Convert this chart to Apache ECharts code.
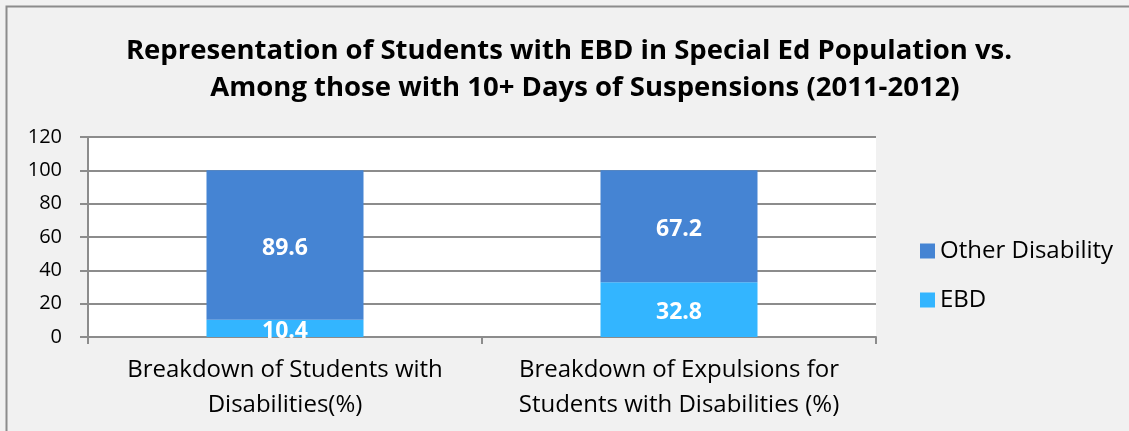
<!DOCTYPE html>
<html><head><meta charset="utf-8">
<script src="https://cdn.jsdelivr.net/npm/echarts@6/dist/echarts.min.js"></script>
<style>html,body{margin:0;padding:0;background:#f1f1f1}#c{width:1129px;height:431px}</style>
</head><body><div id="c"></div>
<script>
const categories = ['Breakdown of Students with\nDisabilities(%)', 'Breakdown of Expulsions for\nStudents with Disabilities (%)'];
const ebd = [10.4, 32.8];
const other = [89.6, 67.2];
const seriesNames = ['Other Disability', 'EBD'];
const titleLines = ['Representation of Students with EBD in Special Ed Population vs.', 'Among those with 10+ Days of Suspensions (2011-2012)'];

const FONT = 'Open Sans';
const titleStyle = {fontFamily: FONT, fontWeight: 'bold', fontSize: 27.5, color: '#000'};
const chart = echarts.init(document.getElementById('c'), null, {renderer: 'canvas'});
chart.setOption({
  backgroundColor: '#f1f1f1',
  animation: false,
  graphic: [{type: 'rect', shape: {x: 6.5, y: 6.5, width: 1300, height: 600}, style: {fill: 'none', stroke: '#8c8c8c', lineWidth: 2}, z: -1}],
  title: [
    {text: titleLines[0], left: 569, top: 37, textAlign: 'center', padding: 0, textStyle: titleStyle},
    {text: titleLines[1], left: 585, top: 74, textAlign: 'center', padding: 0, textStyle: titleStyle}
  ],
  grid: {left: 88, right: 1129 - 876, top: 137, bottom: 431 - 337, containLabel: false, backgroundColor: '#fff', show: true, borderWidth: 0},
  legend: {orient: 'vertical', left: 915, top: 234, itemWidth: 15, itemHeight: 15, itemGap: 25,
    icon: 'rect', data: seriesNames,
    textStyle: {fontFamily: FONT, fontSize: 24, color: '#000'}},
  xAxis: {type: 'category', data: categories,
    axisLine: {lineStyle: {color: '#8c8c8c', width: 2}},
    axisTick: {show: true, length: 7, lineStyle: {color: '#8c8c8c', width: 2}},
    axisLabel: {interval: 0, hideOverlap: false, fontFamily: FONT, fontSize: 24, color: '#000', lineHeight: 35, margin: 16}},
  yAxis: {type: 'value', min: 0, max: 120, interval: 20,
    axisLine: {show: true, lineStyle: {color: '#8c8c8c', width: 2}},
    axisTick: {show: true, length: 8, lineStyle: {color: '#8c8c8c', width: 2}},
    splitLine: {lineStyle: {color: '#8c8c8c', width: 2}},
    axisLabel: {fontFamily: FONT, fontSize: 20, color: '#000', margin: 26}},
  series: [
    {name: 'EBD', type: 'bar', stack: 's', data: ebd, barWidth: 157,
      itemStyle: {color: '#33b5ff'},
      label: {show: true, position: 'inside', color: '#fff', fontFamily: FONT, fontWeight: 'bold', fontSize: 23, offset: [0, 3]}},
    {name: 'Other Disability', type: 'bar', stack: 's', data: other, barWidth: 157,
      itemStyle: {color: '#4584d3'},
      label: {show: true, position: 'inside', color: '#fff', fontFamily: FONT, fontWeight: 'bold', fontSize: 23, offset: [0, 3]}}
  ]
});
</script></body></html>
